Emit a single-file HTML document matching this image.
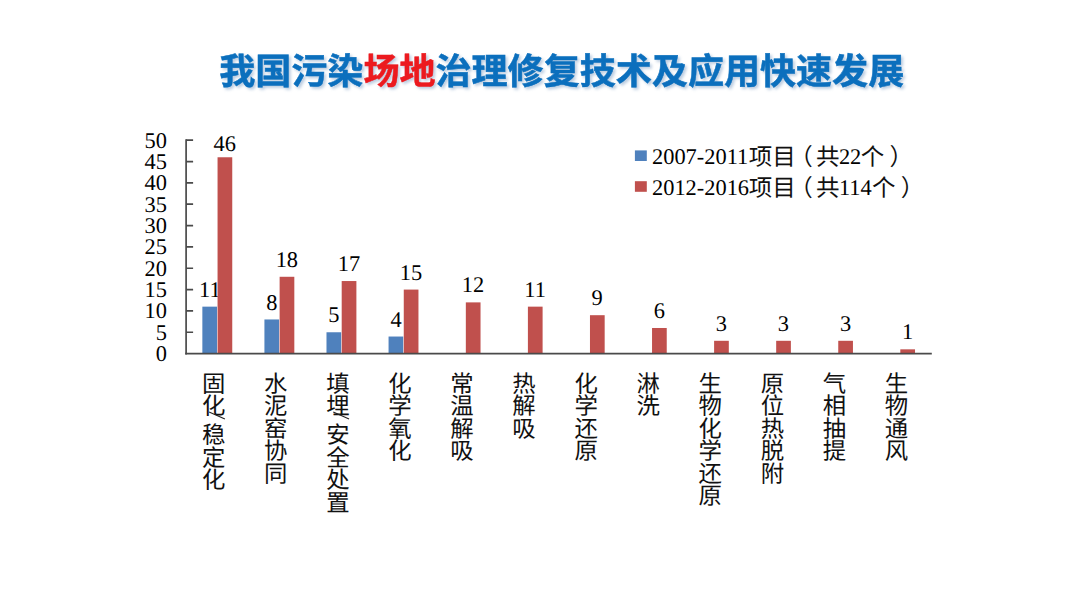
<!DOCTYPE html>
<html lang="zh-CN">
<head>
<meta charset="utf-8">
<title>我国污染场地治理修复技术及应用快速发展</title>
<style>
html,body{margin:0;padding:0;background:#fff}
body{width:1080px;height:607px;overflow:hidden;position:relative;font-family:"Liberation Serif",serif}
svg{position:absolute;left:0;top:0;display:block}
text{font-family:"Liberation Serif",serif;text-rendering:geometricPrecision}
</style>
</head>
<body>
<svg width="1080" height="607" viewBox="0 0 1080 607">
<defs>
<filter id="sh" x="-5%" y="-30%" width="110%" height="170%" color-interpolation-filters="sRGB">
<feGaussianBlur in="SourceAlpha" stdDeviation="1.6"/>
<feOffset dx="1.6" dy="2.2" result="b"/>
<feFlood flood-color="#3f6fa8" flood-opacity="0.36"/>
<feComposite in2="b" operator="in"/>
<feMerge><feMergeNode/><feMergeNode in="SourceGraphic"/></feMerge>
</filter>
</defs>
<g id="title" filter="url(#sh)">
<text x="219.2" y="84.2" style="font-family:'Liberation Sans','Noto Sans CJK SC',sans-serif" font-size="36.05" font-weight="bold" fill="#0b6fbd" stroke="#0b6fbd" stroke-width="0.5" textLength="685" lengthAdjust="spacing">我国污染<tspan fill="#ec1a1f" stroke="#ec1a1f">场地</tspan>治理修复技术及应用快速发展</text>
</g>
<g id="labels1" font-family="'Liberation Serif', serif" font-size="22.4" fill="#000" text-anchor="middle">
<text x="209.83" y="296.75">11</text>
<text x="271.89" y="309.56">8</text>
<text x="333.96" y="322.36">5</text>
<text x="396.03" y="326.63">4</text>
</g>
<g id="bars1" fill="#4f81bd">
<rect x="202.35" y="306.65" width="14.65" height="46.95"/>
<rect x="264.42" y="319.46" width="14.65" height="34.14"/>
<rect x="326.49" y="332.26" width="14.65" height="21.34"/>
<rect x="388.56" y="336.53" width="14.65" height="17.07"/>
</g>
<g id="bars2" fill="#c0504d">
<rect x="217.55" y="157.27" width="14.70" height="196.33"/>
<rect x="279.62" y="276.78" width="14.70" height="76.82"/>
<rect x="341.69" y="281.04" width="14.70" height="72.56"/>
<rect x="403.76" y="289.58" width="14.70" height="64.02"/>
<rect x="465.83" y="302.38" width="14.70" height="51.22"/>
<rect x="527.90" y="306.65" width="14.70" height="46.95"/>
<rect x="589.97" y="315.19" width="14.70" height="38.41"/>
<rect x="652.04" y="327.99" width="14.70" height="25.61"/>
<rect x="714.11" y="340.80" width="14.70" height="12.80"/>
<rect x="776.18" y="340.80" width="14.70" height="12.80"/>
<rect x="838.25" y="340.80" width="14.70" height="12.80"/>
<rect x="900.32" y="349.33" width="14.70" height="4.27"/>
</g>
<g id="labels2" font-family="'Liberation Serif', serif" font-size="22.4" fill="#000" text-anchor="middle">
<text x="224.78" y="150.80">46</text>
<text x="286.85" y="266.88">18</text>
<text x="348.92" y="271.14">17</text>
<text x="410.99" y="279.68">15</text>
<text x="473.06" y="292.48">12</text>
<text x="535.13" y="296.75">11</text>
<text x="597.20" y="305.29">9</text>
<text x="659.26" y="318.09">6</text>
<text x="721.34" y="330.90">3</text>
<text x="783.41" y="330.90">3</text>
<text x="845.48" y="330.90">3</text>
<text x="907.54" y="339.43">1</text>
</g>
<g id="axes" stroke="#4a4a4a" stroke-width="1.7" fill="none">
<path d="M186.10 139.35V354.45"/>
<path d="M185.25 353.60H931.80"/>
<path d="M186.10 332.26h7.00M186.10 310.92h7.00M186.10 289.58h7.00M186.10 268.24h7.00M186.10 246.90h7.00M186.10 225.56h7.00M186.10 204.22h7.00M186.10 182.88h7.00M186.10 161.54h7.00M186.10 140.20h7.00"/>
</g>
<g id="ylabels" font-family="'Liberation Serif', serif" font-size="22.4" fill="#000" text-anchor="end">
<text x="166.90" y="361.15">0</text>
<text x="166.90" y="339.81">5</text>
<text x="166.90" y="318.47">10</text>
<text x="166.90" y="297.13">15</text>
<text x="166.90" y="275.79">20</text>
<text x="166.90" y="254.45">25</text>
<text x="166.90" y="233.11">30</text>
<text x="166.90" y="211.77">35</text>
<text x="166.90" y="190.43">40</text>
<text x="166.90" y="169.09">45</text>
<text x="166.90" y="147.75">50</text>
</g>
<g id="cats" fill="#111" style="font-family:'Liberation Sans','Noto Sans CJK SC',sans-serif" font-size="23.4">
<g>
<text x="202.00" y="391.83">固</text>
<text x="202.00" y="414.33">化</text>
<path d="M209.10 412.00L224.90 419.10" stroke="#222" stroke-width="1.15" fill="none"/>
<text x="202.00" y="443.13">稳</text>
<text x="202.00" y="465.63">定</text>
<text x="202.00" y="488.13">化</text>
</g>
<g>
<text x="264.07" y="391.83">水</text>
<text x="264.07" y="414.33">泥</text>
<text x="264.07" y="436.83">窑</text>
<text x="264.07" y="459.33">协</text>
<text x="264.07" y="481.83">同</text>
</g>
<g>
<text x="326.14" y="391.83">填</text>
<text x="326.14" y="414.33">埋</text>
<path d="M333.24 412.00L349.04 419.10" stroke="#222" stroke-width="1.15" fill="none"/>
<text x="326.14" y="443.13">安</text>
<text x="326.14" y="465.63">全</text>
<text x="326.14" y="488.13">处</text>
<text x="326.14" y="510.63">置</text>
</g>
<g>
<text x="388.21" y="391.83">化</text>
<text x="388.21" y="414.33">学</text>
<text x="388.21" y="436.83">氧</text>
<text x="388.21" y="459.33">化</text>
</g>
<g>
<text x="450.28" y="391.83">常</text>
<text x="450.28" y="414.33">温</text>
<text x="450.28" y="436.83">解</text>
<text x="450.28" y="459.33">吸</text>
</g>
<g>
<text x="512.35" y="391.83">热</text>
<text x="512.35" y="414.33">解</text>
<text x="512.35" y="436.83">吸</text>
</g>
<g>
<text x="574.42" y="391.83">化</text>
<text x="574.42" y="414.33">学</text>
<text x="574.42" y="436.83">还</text>
<text x="574.42" y="459.33">原</text>
</g>
<g>
<text x="636.49" y="391.83">淋</text>
<text x="636.49" y="414.33">洗</text>
</g>
<g>
<text x="698.56" y="391.83">生</text>
<text x="698.56" y="414.33">物</text>
<text x="698.56" y="436.83">化</text>
<text x="698.56" y="459.33">学</text>
<text x="698.56" y="481.83">还</text>
<text x="698.56" y="504.33">原</text>
</g>
<g>
<text x="760.63" y="391.83">原</text>
<text x="760.63" y="414.33">位</text>
<text x="760.63" y="436.83">热</text>
<text x="760.63" y="459.33">脱</text>
<text x="760.63" y="481.83">附</text>
</g>
<g>
<text x="822.70" y="391.83">气</text>
<text x="822.70" y="414.33">相</text>
<text x="822.70" y="436.83">抽</text>
<text x="822.70" y="459.33">提</text>
</g>
<g>
<text x="884.77" y="391.83">生</text>
<text x="884.77" y="414.33">物</text>
<text x="884.77" y="436.83">通</text>
<text x="884.77" y="459.33">风</text>
</g>
</g>
<g id="legend">
<rect x="634.9" y="150.4" width="11.9" height="10.6" fill="#4f81bd"/>
<rect x="634.9" y="181.2" width="11.9" height="10.6" fill="#c0504d"/>
<g fill="#111"><text x="652.0" y="163.90" font-family="'Liberation Serif', serif" font-size="22.4" fill="#000" stroke="none">2007-2011</text><text x="748.75" y="165.10" style="font-family:'Liberation Sans','Noto Sans CJK SC',sans-serif" font-size="23.5">项目</text><text x="789.18" y="165.10" style="font-family:'Liberation Sans','Noto Sans CJK SC',sans-serif" font-size="23.5">（</text><text x="815.95" y="165.10" style="font-family:'Liberation Sans','Noto Sans CJK SC',sans-serif" font-size="23.5">共</text><text x="838.90" y="163.90" font-family="'Liberation Serif', serif" font-size="22.4" fill="#000" stroke="none">22</text><text x="860.75" y="165.10" style="font-family:'Liberation Sans','Noto Sans CJK SC',sans-serif" font-size="23.5">个</text><text x="889.5" y="165.10" style="font-family:'Liberation Sans','Noto Sans CJK SC',sans-serif" font-size="23.5">）</text></g>
<g fill="#111"><text x="652.0" y="194.70" font-family="'Liberation Serif', serif" font-size="22.4" fill="#000" stroke="none">2012-2016</text><text x="748.75" y="195.90" style="font-family:'Liberation Sans','Noto Sans CJK SC',sans-serif" font-size="23.5">项目</text><text x="789.18" y="195.90" style="font-family:'Liberation Sans','Noto Sans CJK SC',sans-serif" font-size="23.5">（</text><text x="815.95" y="195.90" style="font-family:'Liberation Sans','Noto Sans CJK SC',sans-serif" font-size="23.5">共</text><text x="838.90" y="194.70" font-family="'Liberation Serif', serif" font-size="22.4" fill="#000" stroke="none">114</text><text x="871.95" y="195.90" style="font-family:'Liberation Sans','Noto Sans CJK SC',sans-serif" font-size="23.5">个</text><text x="900.7" y="195.90" style="font-family:'Liberation Sans','Noto Sans CJK SC',sans-serif" font-size="23.5">）</text></g>
</g>
</svg>
</body>
</html>
